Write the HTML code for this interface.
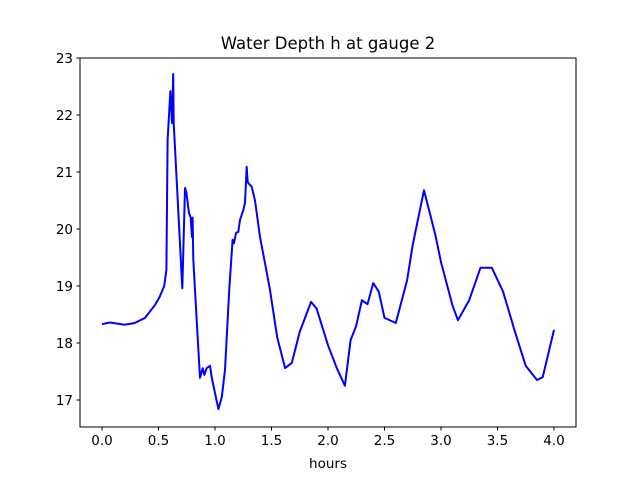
<!DOCTYPE html>
<html><head><meta charset="utf-8"><style>
body{margin:0;background:#fff;}
svg{display:block;font-family:"DejaVu Sans","Liberation Sans",sans-serif;}
</style></head><body>
<svg id="chart" width="640" height="480" viewBox="0 0 640 480" xmlns="http://www.w3.org/2000/svg">
<rect width="640" height="480" fill="#fff"/>
<text x="328" y="49" font-size="16.5" text-anchor="middle">Water Depth h at gauge 2</text>
<g id="xticks"></g><g id="yticks"></g>
<path id="line" fill="none" stroke="#0000ff" stroke-width="2" stroke-linejoin="round"/>
<rect x="80" y="58" width="496" height="369" fill="none" stroke="#000" stroke-width="1"/>
<text x="328" y="468" font-size="13.5" text-anchor="middle">hours</text>
</svg>
<script>
const hours=[0,.07,.2,.29,.38,.47,.51,.55,.57,.58,.605,.619,.63,.634,.71,.734,.746,.77,.785,.796,.802,.808,.838,.867,.891,.905,.926,.956,.971,1.0,1.03,1.06,1.088,1.127,1.156,1.168,1.186,1.206,1.221,1.25,1.265,1.28,1.289,1.325,1.354,1.398,1.442,1.487,1.55,1.62,1.68,1.75,1.85,1.9,2.0,2.08,2.15,2.2,2.25,2.3,2.35,2.4,2.45,2.5,2.6,2.7,2.75,2.85,2.95,3.0,3.1,3.15,3.25,3.35,3.45,3.55,3.65,3.75,3.85,3.9,4.0];
const depth=[18.33,18.36,18.32,18.35,18.44,18.67,18.81,19.0,19.28,21.56,22.42,21.86,22.72,21.86,18.96,20.72,20.65,20.28,20.2,19.86,20.2,19.46,18.4,17.39,17.56,17.44,17.56,17.6,17.4,17.12,16.84,17.05,17.53,18.98,19.81,19.75,19.93,19.95,20.16,20.33,20.46,21.09,20.82,20.74,20.5,19.86,19.4,18.93,18.1,17.56,17.65,18.2,18.72,18.6,17.96,17.55,17.25,18.05,18.3,18.75,18.68,19.05,18.9,18.44,18.35,19.1,19.72,20.68,19.9,19.42,18.67,18.4,18.75,19.32,19.32,18.9,18.23,17.6,17.35,17.4,18.23];
const xTickLabels=["0.0","0.5","1.0","1.5","2.0","2.5","3.0","3.5","4.0"];
const yTickLabels=["17","18","19","20","21","22","23"];
const X0=80,X1=576,Y0=427,Y1=58,xmin=-0.195,xmax=4.195,ymin=16.526,ymax=23.0;
const sx=v=>X0+(v-xmin)/(xmax-xmin)*(X1-X0);
const sy=v=>Y0-(v-ymin)/(ymax-ymin)*(Y0-Y1);
const NS="http://www.w3.org/2000/svg";
document.getElementById('line').setAttribute('d',hours.map((h,i)=>(i?'L':'M')+sx(h).toFixed(1)+','+sy(depth[i]).toFixed(1)).join(''));
const xg=document.getElementById('xticks');
xTickLabels.forEach(t=>{const x=sx(parseFloat(t));
const l=document.createElementNS(NS,'line');l.setAttribute('x1',x);l.setAttribute('x2',x);l.setAttribute('y1',427);l.setAttribute('y2',430.5);l.setAttribute('stroke','#000');


xg.appendChild(l);
const s=document.createElementNS(NS,'text');s.setAttribute('x',x);s.setAttribute('y',445);s.setAttribute('font-size','13.5');s.setAttribute('text-anchor','middle');s.textContent=t;


xg.appendChild(s);});
const yg=document.getElementById('yticks');
yTickLabels.forEach(t=>{const y=sy(parseFloat(t));
const l=document.createElementNS(NS,'line');l.setAttribute('x1',76.5);l.setAttribute('x2',80);l.setAttribute('y1',y);l.setAttribute('y2',y);l.setAttribute('stroke','#000');


yg.appendChild(l);
const s=document.createElementNS(NS,'text');s.setAttribute('x',73);s.setAttribute('y',y+5);s.setAttribute('font-size','13.5');s.setAttribute('text-anchor','end');s.textContent=t;


yg.appendChild(s);});
</script>
</body></html>
